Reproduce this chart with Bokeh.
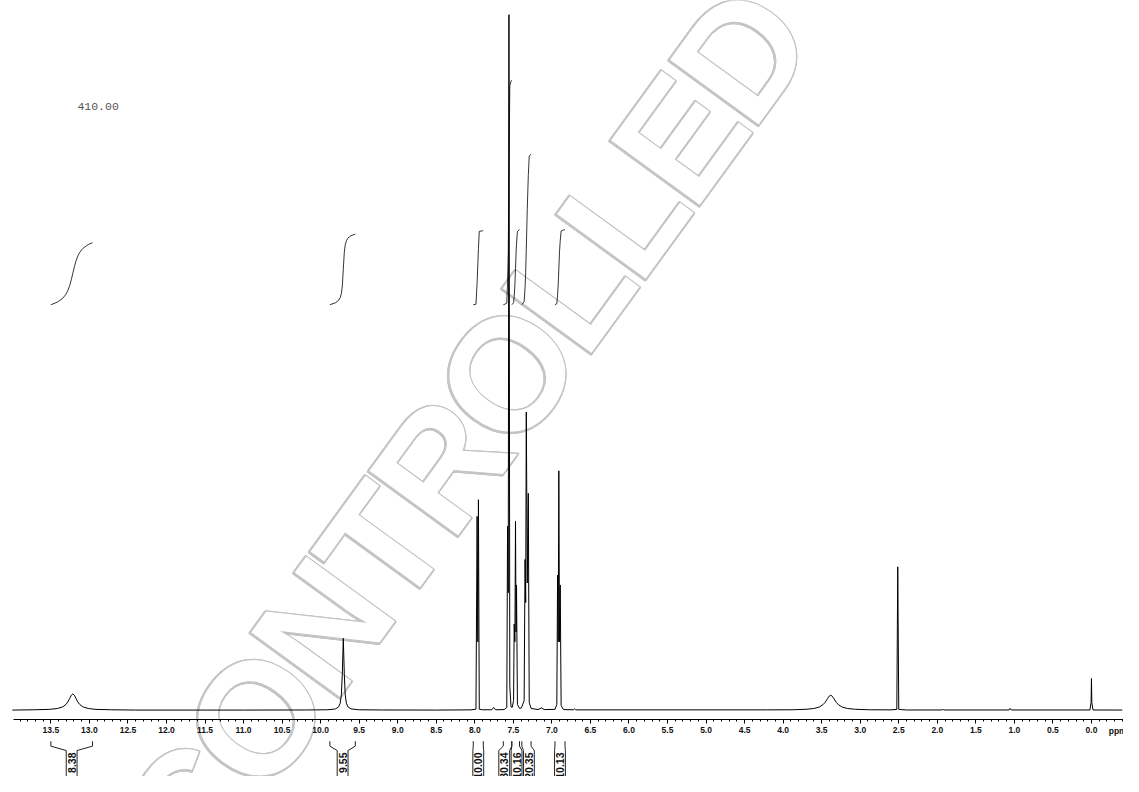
import numpy as np
from bokeh.plotting import figure
from bokeh.models import Range1d, LinearAxis, SingleIntervalTicker, PrintfTickFormatter
from bokeh.core.properties import value
from bokeh.embed import file_html
from bokeh.resources import INLINE

# ---------------- data ----------------
# 1H NMR trace: chemical shift (ppm) and intensity (arbitrary units)
trace_ppm = [14.00, 13.90, 13.72, 13.52, 13.415, 13.345, 13.305, 13.28, 13.255, 13.235,
             13.215, 13.195, 13.175, 13.15, 13.125, 13.085, 13.015, 12.915, 12.715, 12.40,
             11.00, 10.20, 9.906, 9.806, 9.766, 9.746, 9.731, 9.719, 9.706, 9.693,
             9.681, 9.666, 9.646, 9.606, 9.506, 9.20, 8.50, 8.05, 7.985, 7.970,
             7.961, 7.953, 7.942, 7.90, 7.78, 7.755, 7.73, 7.62, 7.585, 7.575,
             7.566, 7.557, 7.546, 7.53, 7.515, 7.497, 7.489, 7.480, 7.472, 7.465,
             7.459, 7.447, 7.42, 7.395, 7.36, 7.348, 7.340, 7.332, 7.319, 7.306,
             7.294, 7.27, 7.18, 7.135, 7.10, 6.96, 6.936, 6.926, 6.918, 6.910,
             6.901, 6.892, 6.880, 6.85, 6.72, 6.705, 6.69, 4.20, 3.883, 3.703,
             3.603, 3.533, 3.483, 3.458, 3.423, 3.403, 3.383, 3.363, 3.343, 3.308,
             3.283, 3.233, 3.163, 3.063, 2.883, 2.60, 2.525, 2.513, 2.500, 2.40,
             1.94, 1.93, 1.92, 1.07, 1.055, 1.04, 0.02, 0.005, 0.0, -0.005,
             -0.02, -0.40]
trace_int = [0.3, 0.4, 0.6, 1.0, 1.9, 3.6, 6.0, 8.6, 12.3, 15.4,
             16.8, 15.4, 12.3, 8.6, 6.0, 3.6, 1.9, 1.0, 0.6, 0.3,
             0.3, 0.4, 0.6, 1.5, 3.6, 7.3, 15.9, 36.9, 73.5, 36.9,
             15.9, 7.3, 3.6, 1.5, 0.6, 0.4, 0.3, 0.5, 1.2, 198.0,
             70.0, 215.0, 1.2, 0.6, 0.6, 3.0, 0.6, 0.8, 3.0, 188.0,
             120.0, 710.0, 25.0, 3.5, 3.0, 10.0, 88.0, 70.0, 193.0, 80.0,
             128.0, 6.0, 2.0, 2.5, 10.0, 154.0, 110.0, 304.5, 130.0, 221.5,
             8.0, 2.0, 0.8, 2.5, 0.8, 1.0, 6.0, 138.0, 70.0, 244.5,
             70.0, 128.0, 5.0, 0.8, 0.6, 1.5, 0.5, 0.5, 0.6, 1.1,
             1.9, 3.3, 5.8, 7.9, 12.1, 14.5, 15.5, 14.5, 12.1, 7.9,
             5.8, 3.3, 1.9, 1.1, 0.6, 0.5, 1.0, 146.5, 1.0, 0.4,
             0.4, 1.2, 0.4, 0.4, 2.0, 0.4, 0.4, 8.0, 32.5, 8.0,
             0.4, 0.3]

# integration regions (ppm) and integral values
int_hi = [13.50, 9.88, 8.02, 7.63, 7.52, 7.39, 6.96]
int_lo = [12.96, 9.55, 7.89, 7.52, 7.42, 7.27, 6.83]
int_val = [8.38, 9.55, 10.00, 30.34, 10.16, 20.35, 10.13]
int_txt = ["8.38", "9.55", "10.00", "30.34", "10.16", "20.35", "10.13"]

tick_step = 0.5
note_text = "410.00"
watermark = "CONTROLLED"
# advance widths (em) of the bold sans letters of the watermark
wm_adv = {"C": 0.722, "O": 0.778, "N": 0.722, "T": 0.611, "R": 0.722,
          "L": 0.611, "E": 0.667, "D": 0.722}

# ---------------- geometry helpers (reference pixel -> data) ----------------
W, H = 1123, 776
REF_W, REF_H = 1139, 792
PX0 = 1106.5   # pixel of 0 ppm
PPX = 78.18    # pixels per ppm
BASE_Y = 724.5 # pixel of the baseline


def fx(X):
    return (PX0 - X) / PPX


def fy(Y):
    return BASE_Y - Y


p = figure(width=W, height=H, output_backend="svg", toolbar_location=None,
           x_range=Range1d(fx(0), fx(REF_W)),
           y_range=Range1d(fy(REF_H), fy(0)),
           x_axis_type=None, y_axis_type=None, min_border=0,
           outline_line_color=None, background_fill_color="white",
           border_fill_color="white")

# watermark: outlined letters placed one by one along a diagonal
wm_cx, wm_cy = 471.0, 440.0
wm_ang = np.deg2rad(54)
wm_step = 153.0
adv = [wm_adv[c] for c in watermark]
starts = np.concatenate([[0], np.cumsum(adv)[:-1]])
along = (starts + np.array(adv) / 2 - sum(adv) / 2) * wm_step
lx = wm_cx + along * np.cos(wm_ang)
ly = wm_cy - along * np.sin(wm_ang)
ring = [(0.9 * np.cos(a), 0.9 * np.sin(a)) for a in np.linspace(0, 2 * np.pi, 8, endpoint=False)]
for dx, dy in ring:
    p.text(x=[fx(v + dx) for v in lx], y=[fy(v + dy) for v in ly], text=list(watermark),
           angle=wm_ang, text_align="center", text_baseline="middle",
           text_font=value("Liberation Sans"), text_font_style="bold",
           text_font_size="161px", text_color="white",
           text_outline_color="#c2c2c2")

# ppm axis
ax = LinearAxis(ticker=SingleIntervalTicker(interval=tick_step, num_minor_ticks=5),
                formatter=PrintfTickFormatter(format="%.1f"))
ax.fixed_location = fy(734.3)
ax.bounds = (fx(REF_W), 13.99)
ax.axis_line_color = "black"
ax.axis_line_width = 1
ax.major_tick_in = 0
ax.major_tick_out = 4
ax.minor_tick_in = 0
ax.minor_tick_out = 2
ax.major_tick_line_color = "black"
ax.minor_tick_line_color = "black"
ax.major_label_text_font = "Liberation Sans"
ax.major_label_text_font_style = "bold"
ax.major_label_text_font_size = "8.5px"
ax.major_label_text_color = "#111111"
ax.major_label_standoff = 3
p.add_layout(ax, "below")

p.text(x=[fx(1124)], y=[fy(746)], text=["ppm"], text_align="left",
       text_baseline="middle", text_font=value("Liberation Sans"),
       text_font_style="bold", text_font_size="8.5px", text_color="#111111")

# spectrum
p.line(trace_ppm, trace_int, line_color="black", line_width=1)

# integral curves (cumulative area of the trace within each region)
tp = np.array(trace_ppm)
ti = np.array(trace_int)
INT_BASE = fy(310.5)
INT_K = 7.55
int_xs, int_ys = [], []
for hi, lo, v in zip(int_hi, int_lo, int_val):
    inner = tp[(tp < hi) & (tp > lo)]
    xs = np.concatenate([[hi], inner, [lo]])
    ys = np.interp(xs, tp[::-1], ti[::-1])
    area = np.concatenate([[0], np.cumsum(0.5 * (ys[1:] + ys[:-1]) * (xs[:-1] - xs[1:]))])
    frac = area / area[-1]
    int_xs.append(list(xs))
    int_ys.append(list(INT_BASE + frac * v * INT_K))
p.multi_line(int_xs, int_ys, line_color="black", line_width=0.8)

# integral labels with brackets (spread so boxes do not overlap)
mids = np.array([(a + b) / 2 for a, b in zip(int_hi, int_lo)])
order = list(np.argsort(-mids))
d = 12.5 / PPX
groups = [[i] for i in order]


def place(g):
    m = np.mean(mids[g])
    n = len(g)
    return [m + d * ((n - 1) / 2 - k) for k in range(n)]


changed = True
while changed:
    changed = False
    for j in range(len(groups) - 1):
        if place(groups[j])[-1] - place(groups[j + 1])[0] < d:
            groups[j] = groups[j] + groups[j + 1]
            del groups[j + 1]
            changed = True
            break
centers = np.zeros(len(mids))
for g in groups:
    for i, c in zip(g, place(g)):
        centers[i] = c

hw = 5.5 / PPX
yt, yb, ybox, ybot = fy(756), fy(761), fy(765.5), fy(810)
br_xs, br_ys = [], []
for i in range(len(mids)):
    br_xs.append([int_hi[i], int_hi[i], centers[i] + hw, centers[i] + hw])
    br_ys.append([yt, yb, ybox, ybot])
    br_xs.append([int_lo[i], int_lo[i], centers[i] - hw, centers[i] - hw])
    br_ys.append([yt, yb, ybox, ybot])
p.multi_line(br_xs, br_ys, line_color="#222222", line_width=1)
p.text(x=list(centers), y=[fy(767.5)] * len(centers), text=int_txt,
       angle=np.pi / 2, text_align="right", text_baseline="middle",
       text_font=value("Liberation Sans"), text_font_style="bold",
       text_font_size="10.5px", text_color="#111111")

# annotation text
p.text(x=[fx(78)], y=[fy(108)], text=[note_text], text_align="left",
       text_baseline="middle", text_font=value("Liberation Mono"),
       text_font_size="11.5px", text_color="#555555")

open("out.html", "w").write(file_html(p, INLINE))
